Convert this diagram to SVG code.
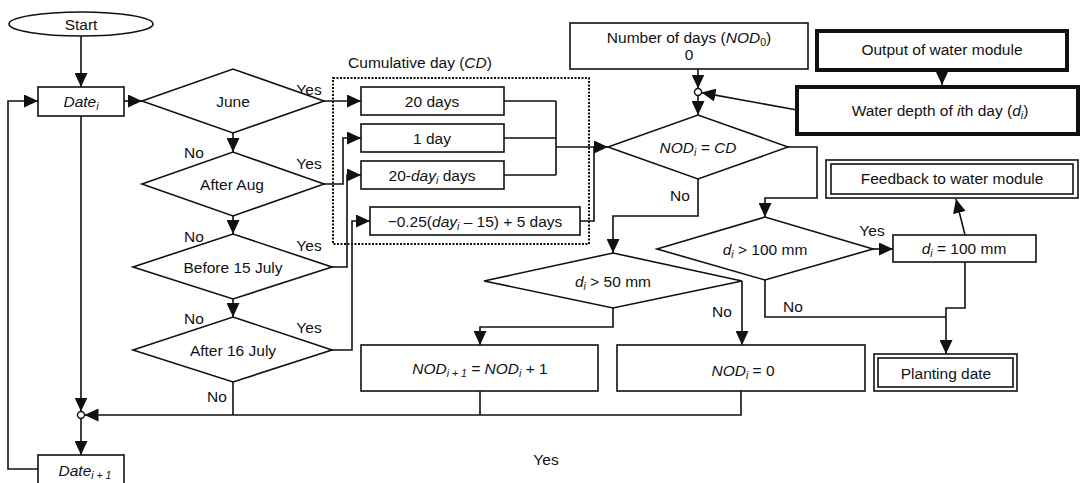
<svg xmlns="http://www.w3.org/2000/svg" width="1080" height="483" viewBox="0 0 1080 483">
<style>
text{font-family:"Liberation Sans",Arial,sans-serif;font-size:15.5px;fill:#111;text-anchor:middle}
.it{font-style:italic}
.sub{font-size:10.5px}
.n{fill:#fff;stroke:#111;stroke-width:1.6}
.thick{fill:#fff;stroke:#111;stroke-width:4}
.c{fill:none;stroke:#111;stroke-width:1.6}
.dot{fill:none;stroke:#111;stroke-width:2;stroke-dasharray:2 1.5}
</style>
<defs>
<marker id="a" markerUnits="userSpaceOnUse" markerWidth="14" markerHeight="13" viewBox="0 0 14 13" refX="14" refY="6.5" orient="auto">
<path d="M0,0 L14,6.5 L0,13 Z" fill="#111"/>
</marker>
</defs>

<g id="connectors">
<path class="c" d="M81,36 V87" marker-end="url(#a)"/>
<path class="c" d="M124,101 H142" marker-end="url(#a)"/>
<path class="c" d="M233,133 V152" marker-end="url(#a)"/>
<path class="c" d="M233,216 V234" marker-end="url(#a)"/>
<path class="c" d="M233,299 V317" marker-end="url(#a)"/>
<path class="c" d="M233,382 V415"/>
<path class="c" d="M81,116 V411.5" marker-end="url(#a)"/>
<path class="c" d="M81,418.5 V455" marker-end="url(#a)"/>
<path class="c" d="M741,391 V415 H84.5" marker-end="url(#a)"/>
<path class="c" d="M480,391 V415"/>
<path class="c" d="M38,469 H8 V101 H38" marker-end="url(#a)"/>
<path class="c" d="M324,101 H361" marker-end="url(#a)"/>
<path class="c" d="M324,184 H343 V138 H361" marker-end="url(#a)"/>
<path class="c" d="M332,267 H347 V175 H361" marker-end="url(#a)"/>
<path class="c" d="M332,350 H352 V221 H370" marker-end="url(#a)"/>
<path class="c" d="M504,101 H556 M504,138 H556 M504,175 H556 M556,101 V175 M580,221 H594 V147"/>
<path class="c" d="M556,147 H608" marker-end="url(#a)"/>
<path class="c" d="M698,69 V88.5" marker-end="url(#a)"/>
<path class="c" d="M698,95.5 V115" marker-end="url(#a)"/>
<path class="c" d="M797,110 L701.5,92.6" marker-end="url(#a)"/>
<path class="c" d="M942,70 V85" marker-end="url(#a)"/>
<path class="c" d="M698,179 V216 H613 V253" marker-end="url(#a)"/>
<path class="c" d="M788,147 H817 V198 H765 V217" marker-end="url(#a)"/>
<path class="c" d="M613,308 V327 H480 V345" marker-end="url(#a)"/>
<path class="c" d="M742,281 V345" marker-end="url(#a)"/>
<path class="c" d="M873,249 H893" marker-end="url(#a)"/>
<path class="c" d="M965,235 L956,199" marker-end="url(#a)"/>
<path class="c" d="M765,280 V317 H946"/>
<path class="c" d="M965,262 V308 H946 V354" marker-end="url(#a)"/>
<circle cx="81" cy="415" r="3.5" fill="#fff" stroke="#111" stroke-width="1.4"/>
<circle cx="698" cy="92" r="3.5" fill="#fff" stroke="#111" stroke-width="1.4"/>
<text x="309" y="95">Yes</text>
<text x="194" y="158">No</text>
<text x="309" y="169">Yes</text>
<text x="194" y="242">No</text>
<text x="309" y="251">Yes</text>
<text x="194" y="324">No</text>
<text x="309" y="333">Yes</text>
<text x="217" y="402">No</text>
<text x="680" y="201">No</text>
<text x="722" y="317">No</text>
<text x="872" y="236">Yes</text>
<text x="793" y="312">No</text>
<text x="546" y="465">Yes</text>
</g>

<g id="start">
<ellipse class="n" cx="81" cy="24" rx="72" ry="12"/>
<text x="81" y="29.5">Start</text>
</g>
<g id="date-i">
<rect class="n" x="38" y="87" width="86" height="29"/>
<text x="81" y="106.5"><tspan class="it">Date</tspan><tspan class="it sub" dy="3">i</tspan></text>
</g>
<g id="june">
<polygon class="n" points="142,101 233,69 324,101 233,133"/>
<text x="233" y="106.5">June</text>
</g>
<g id="after-aug">
<polygon class="n" points="142,184 233,152 324,184 233,216"/>
<text x="232" y="189.5">After Aug</text>
</g>
<g id="before-15-july">
<polygon class="n" points="133,267 233,234 332,267 233,299"/>
<text x="233" y="272.5">Before 15 July</text>
</g>
<g id="after-16-july">
<polygon class="n" points="133,350 233,317 332,350 233,382"/>
<text x="233" y="355.5">After 16 July</text>
</g>
<g id="date-i1">
<rect class="n" x="38" y="455" width="86" height="40"/>
<text x="85" y="476"><tspan class="it">Date</tspan><tspan class="it sub" dy="3">i + 1</tspan></text>
</g>

<g id="cumulative">
<rect class="dot" x="333" y="78" width="256" height="166"/>
<text x="420" y="68">Cumulative day (<tspan class="it">CD</tspan>)</text>
</g>
<g id="cd-20">
<rect class="n" x="361" y="87" width="143" height="28"/>
<text x="432" y="106.5">20 days</text>
</g>
<g id="cd-1">
<rect class="n" x="361" y="124" width="143" height="28"/>
<text x="432" y="143.5">1 day</text>
</g>
<g id="cd-20-day">
<rect class="n" x="361" y="161" width="143" height="28"/>
<text x="432" y="180.5">20-<tspan class="it">day</tspan><tspan class="it sub" dy="3">i</tspan><tspan dy="-3"> days</tspan></text>
</g>
<g id="cd-formula">
<rect class="n" x="370" y="207" width="210" height="28"/>
<text x="475" y="226.5">−0.25(<tspan class="it">day</tspan><tspan class="it sub" dy="3">i</tspan><tspan dy="-3"> – 15) + 5 days</tspan></text>
</g>

<g id="nod0">
<rect class="n" x="570" y="23" width="238" height="46"/>
<text x="689" y="43">Number of days (<tspan class="it">NOD</tspan><tspan class="sub" dy="3">0</tspan><tspan dy="-3">)</tspan></text>
<text x="689" y="60">0</text>
</g>
<g id="output-water">
<rect class="thick" x="817" y="31" width="250" height="39"/>
<text x="942" y="55">Output of water module</text>
</g>
<g id="water-depth">
<rect class="thick" x="797" y="87" width="281" height="47"/>
<text x="940" y="115.5">Water depth of <tspan class="it">i</tspan>th day (<tspan class="it">d</tspan><tspan class="it sub" dy="3">i</tspan><tspan dy="-3">)</tspan></text>
</g>
<g id="nod-cd">
<polygon class="n" points="608,147 698,115 788,147 698,179"/>
<text x="698" y="152.5" class="it">NOD<tspan class="sub" dy="3">i</tspan><tspan dy="-3"> = CD</tspan></text>
</g>
<g id="d50">
<polygon class="n" points="484,281 613,253 742,281 613,308"/>
<text x="613" y="286.5"><tspan class="it">d</tspan><tspan class="it sub" dy="3">i</tspan><tspan dy="-3"> &gt; 50 mm</tspan></text>
</g>
<g id="d100">
<polygon class="n" points="657,249 765,217 873,249 765,280"/>
<text x="765" y="254.5"><tspan class="it">d</tspan><tspan class="it sub" dy="3">i</tspan><tspan dy="-3"> &gt; 100 mm</tspan></text>
</g>
<g id="d-eq-100">
<rect class="n" x="893" y="235" width="143" height="27"/>
<text x="964" y="254"><tspan class="it">d</tspan><tspan class="it sub" dy="3">i</tspan><tspan dy="-3"> = 100 mm</tspan></text>
</g>
<g id="feedback">
<rect class="n" x="826" y="160" width="252" height="38"/>
<rect class="n" x="831" y="164" width="242" height="30"/>
<text x="952" y="184">Feedback to water module</text>
</g>
<g id="nod-inc">
<rect class="n" x="361" y="345" width="237" height="46"/>
<text x="480" y="373.5"><tspan class="it">NOD</tspan><tspan class="it sub" dy="3">i + 1</tspan><tspan class="it" dy="-3"> = NOD</tspan><tspan class="it sub" dy="3">i</tspan><tspan dy="-3"> + 1</tspan></text>
</g>
<g id="nod-zero">
<rect class="n" x="617" y="345" width="248" height="46"/>
<text x="743" y="375.5"><tspan class="it">NOD</tspan><tspan class="it sub" dy="3">i</tspan><tspan dy="-3"> = 0</tspan></text>
</g>
<g id="planting">
<rect class="n" x="874" y="354" width="143" height="37"/>
<rect class="n" x="878" y="358" width="135" height="29"/>
<text x="946" y="379">Planting date</text>
</g>
</svg>
